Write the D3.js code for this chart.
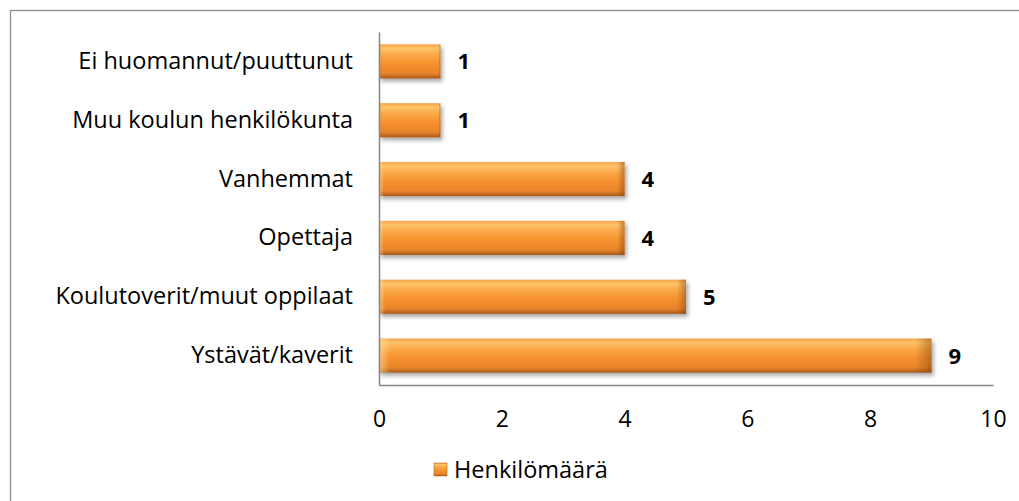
<!DOCTYPE html>
<html>
<head>
<meta charset="utf-8">
<script src="https://cdn.jsdelivr.net/npm/d3@7"></script>
<style>
  body { margin: 0; background: #fff; }
  svg { display: block; font-family: "Open Sans", "DejaVu Sans", sans-serif; }
</style>
</head>
<body>
<svg id="chart" width="1019" height="501"></svg>
<script>
'use strict';

// data, top to bottom as in the picture
var categories = ['Ei huomannut/puuttunut', 'Muu koulun henkilökunta', 'Vanhemmat', 'Opettaja', 'Koulutoverit/muut oppilaat', 'Ystävät/kaverit'];
var values = [1, 1, 4, 4, 5, 9];
var xTicks = [0, 2, 4, 6, 8, 10];
var seriesName = 'Henkilömäärä';

var svg = d3.select('#chart');

var plot = { left: 379, right: 993, top: 32, bottom: 385 };

var x = d3.scaleLinear().domain([0, 10]).range([plot.left, plot.right]);
var y = d3.scaleBand().domain(categories).range([plot.top, plot.bottom]).paddingInner(0.42).paddingOuter(0.21);

// outer frame (right and bottom edges run off the page)
svg.append('rect')
    .attr('x', 10.5).attr('y', 10.5)
    .attr('width', 1030).attr('height', 520)
    .attr('fill', 'none').attr('stroke', '#8c8c8c').attr('stroke-width', 1.3);

var defs = svg.append('defs');

var grad = defs.append('linearGradient').attr('id', 'barFill').attr('x1', 0).attr('y1', 0).attr('x2', 0).attr('y2', 1);
[[0, '#f7a24a'], [0.12, '#fdc468'], [0.28, '#fbac4c'], [0.55, '#f7922f'], [0.85, '#e8842a'], [1, '#a75a1c']].forEach(function (s) {
    grad.append('stop').attr('offset', s[0]).attr('stop-color', s[1]);
});

var edge = defs.append('linearGradient').attr('id', 'barEdge').attr('x1', 0).attr('y1', 0).attr('x2', 1).attr('y2', 0);
[[0, 'rgba(255,230,170,0.55)'], [0.02, 'rgba(255,230,170,0)'], [0.97, 'rgba(120,60,10,0)'], [1, 'rgba(120,60,10,0.45)']].forEach(function (s) {
    edge.append('stop').attr('offset', s[0]).attr('stop-color', s[1]);
});

var shadow = defs.append('filter').attr('id', 'shadow').attr('x', '-5%').attr('y', '-20%').attr('width', '115%').attr('height', '160%');
shadow.append('feGaussianBlur').attr('in', 'SourceAlpha').attr('stdDeviation', 2.2);
shadow.append('feOffset').attr('dx', 2).attr('dy', 3).attr('result', 'off');
shadow.append('feComponentTransfer').append('feFuncA').attr('type', 'linear').attr('slope', 0.35);
var merge = shadow.append('feMerge');
merge.append('feMergeNode');
merge.append('feMergeNode').attr('in', 'SourceGraphic');

// bars
var bars = svg.append('g').attr('class', 'bars');
categories.forEach(function (c, i) {
    var g = bars.append('g').attr('filter', 'url(#shadow)');
    g.append('rect')
        .attr('x', x(0)).attr('y', y(c))
        .attr('width', x(values[i]) - x(0)).attr('height', y.bandwidth())
        .attr('fill', 'url(#barFill)');
    g.append('rect')
        .attr('x', x(0)).attr('y', y(c))
        .attr('width', x(values[i]) - x(0)).attr('height', y.bandwidth())
        .attr('fill', 'url(#barEdge)');
});

// value labels
svg.append('g').selectAll('text')
    .data(categories)
    .enter().append('text')
    .attr('x', function (d, i) { return x(values[i]) + 17; })
    .attr('y', function (d) { return y(d) + y.bandwidth() / 2; })
    .attr('dy', '0.36em')
    .attr('font-size', 22)
    .attr('font-weight', 'bold')
    .attr('fill', '#000')
    .text(function (d, i) { return values[i]; });

// axes
var xAxis = d3.axisBottom(x).tickValues(xTicks).tickSize(0).tickPadding(26);
var gx = svg.append('g').attr('transform', 'translate(0,' + plot.bottom + ')').call(xAxis);
gx.select('.domain').attr('stroke', '#868686').attr('stroke-width', 1.5);
gx.selectAll('text').attr('font-size', 23).attr('font-family', '"Open Sans", sans-serif').attr('fill', '#000');

var yAxis = d3.axisLeft(y).tickSize(0).tickPadding(26);
var gy = svg.append('g').attr('transform', 'translate(' + plot.left + ',0)').call(yAxis);
gy.select('.domain').attr('stroke', '#868686').attr('stroke-width', 1.5);
gy.selectAll('text').attr('font-size', 23.5).attr('font-family', '"Open Sans", sans-serif').attr('fill', '#000');

// legend
var legend = svg.append('g').attr('transform', 'translate(434,463)');
legend.append('rect').attr('width', 13).attr('height', 13).attr('fill', 'url(#barFill)').attr('stroke', '#b8661f').attr('stroke-width', 0.6);
legend.append('text').attr('x', 20).attr('y', 6.5).attr('dy', '0.36em')
    .attr('font-size', 23.5).attr('fill', '#000').text(seriesName);
</script>
</body>
</html>
